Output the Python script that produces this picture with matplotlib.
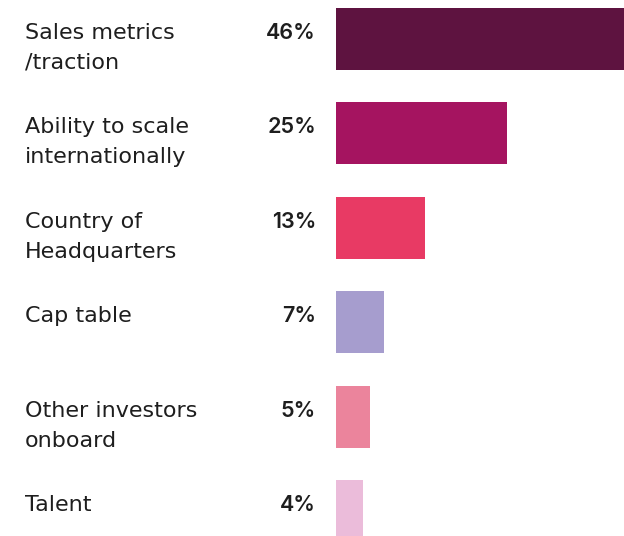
import matplotlib
matplotlib.use('Agg')
import matplotlib.pyplot as plt

W, H, DPI = 624, 536, 100

labels = ['Sales metrics\n/traction', 'Ability to scale\ninternationally',
          'Country of\nHeadquarters', 'Cap table', 'Other investors\nonboard',
          'Talent']
values = [46, 25, 13, 7, 5, 4]
colors = ['#5E1340', '#A51460', '#E83A64', '#A69DCE', '#EB849C', '#EBBCDA']

# layout in pixels
BAR_X0 = 336.0
PX_PER_PCT = 6.83
ROW0 = 39.0
ROW_STEP = 94.4
BAR_H = 62.0
LINE_STEP = 30.0

TEXT_COLOR = '#1e1e1e'

fig = plt.figure(figsize=(W / DPI, H / DPI), dpi=DPI)
ax = fig.add_axes([0, 0, 1, 1])
ax.set_xlim(-BAR_X0 / PX_PER_PCT, (W - BAR_X0) / PX_PER_PCT)
ax.set_ylim((H - ROW0) / ROW_STEP, -ROW0 / ROW_STEP)
ax.axis('off')

pos = list(range(len(values)))
ax.barh(pos, values, height=BAR_H / ROW_STEP, color=colors, left=0)

x_label = (25 - BAR_X0) / PX_PER_PCT
x_pct = (316 - BAR_X0) / PX_PER_PCT
for i, (lab, v) in enumerate(zip(labels, values)):
    # one text per line so the first baseline sits on the bar centre
    for k, line in enumerate(lab.split('\n')):
        ax.text(x_label, i + k * LINE_STEP / ROW_STEP, line, ha='left',
                va='baseline', fontsize=16, family='DejaVu Sans',
                color=TEXT_COLOR)
    ax.text(x_pct, i, '{}%'.format(v), ha='right', va='baseline',
            fontsize=15.5, fontweight='semibold', family='Inter',
            color=TEXT_COLOR)

fig.savefig('out.png', dpi=DPI)
